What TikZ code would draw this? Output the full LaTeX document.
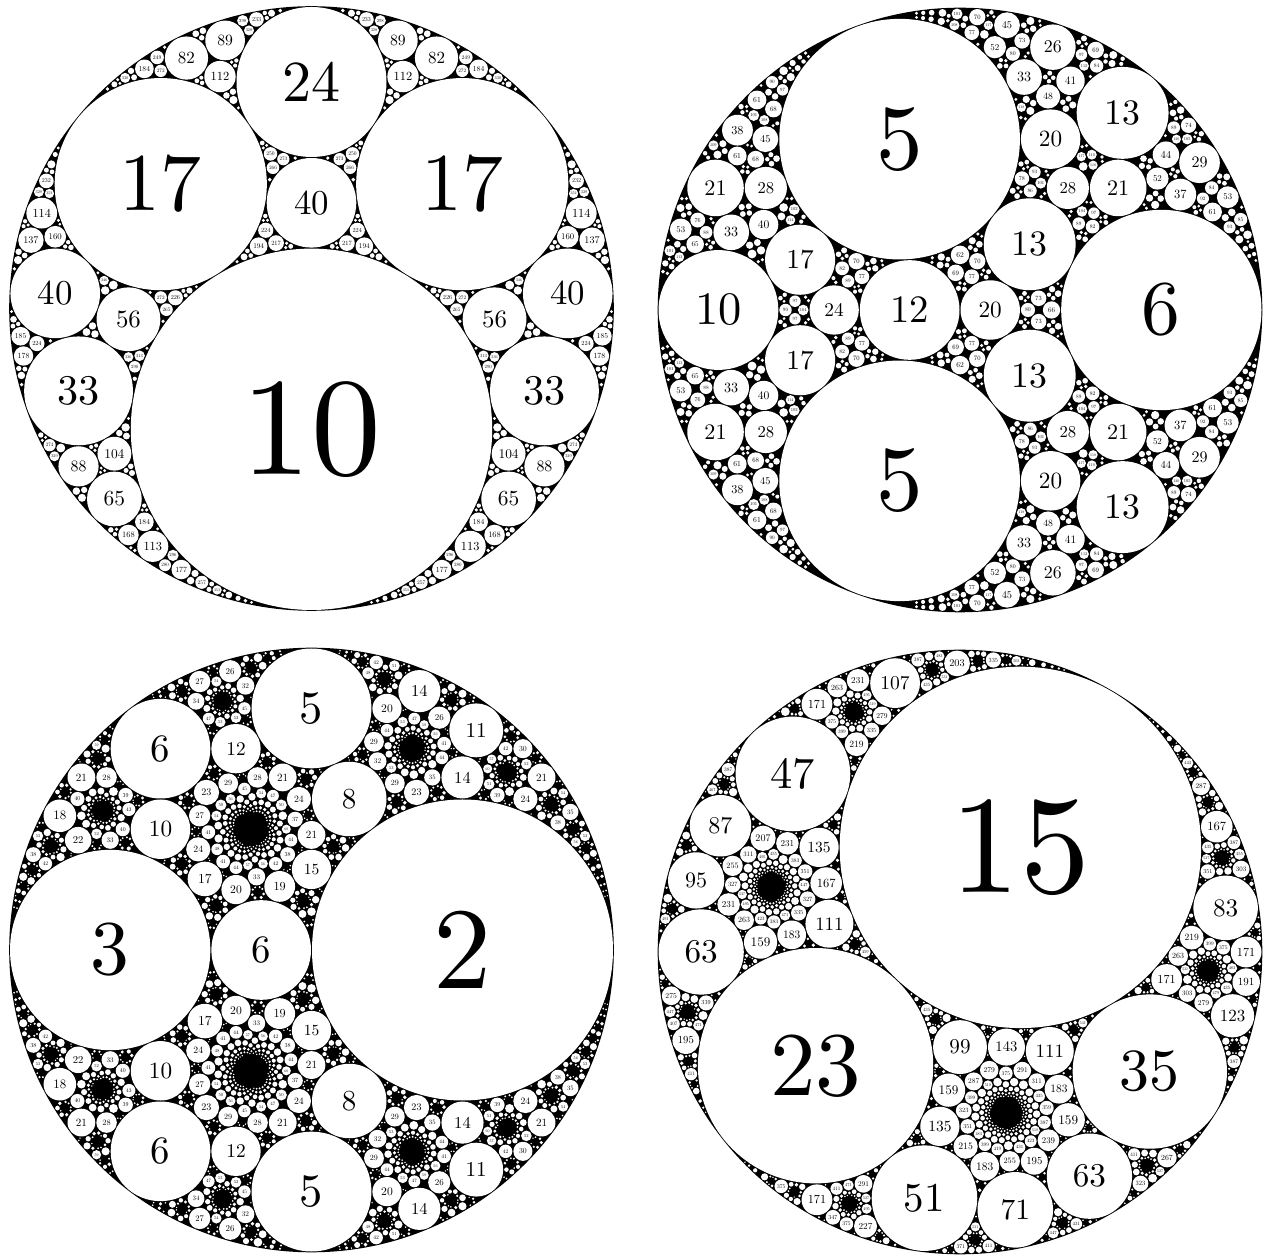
\documentclass[tikz,border=0pt]{standalone}
\makeatletter\let\stripdim\strip@pt\makeatother
\newcount\Ia \newcount\Ib \newcount\Is \newcount\Nc
\def\Rsp{19791872}
\def\Ncap{30000}
\def\SetPanel#1#2#3#4#5#6#7#8{%
  \edef\PCx{\number\dimexpr #1pt\relax}%
  \edef\PCy{\number\dimexpr 1256pt-#2pt\relax}%
  \edef\PRx{\the\numexpr\Rsp*#3/100000000\relax}%
  \edef\PRy{\the\numexpr\Rsp*#4/100000000\relax}%
  \edef\PRr{\the\numexpr\Rsp*#5\relax}%
  \def\Sc{#6}\def\Kmax{#7}\def\Klab{#8}\global\Nc=0 }
\def\SetVec#1#2#3#4{\def\Ak{#1}\def\Au{#2}\def\Aw{#3}\def\Bk{#4}\SetVecB}
\def\SetVecB#1#2#3#4#5#6#7#8{\def\Bu{#1}\def\Bw{#2}\def\Ck{#3}\def\Cu{#4}\def\Cw{#5}\def\Dk{#6}\def\Du{#7}\def\Dw{#8}}
% ---- one white disc (a round dot of its diameter), with its curvature as label
\makeatletter
\def\PutCircB#1#2{\ifnum\Nc<\Ncap\begingroup
  \global\advance\Nc 1
  \dimen0=\numexpr\PCx+(#1)*\PRx/\tk\relax sp
  \dimen2=\numexpr\PCy+(#2)*\PRy/\tk\relax sp
  \dimen4=\numexpr\PRr/\tk\relax sp
  \dimen8=\dimexpr2\dimen4-1pt\relax
  \pgfsys@setlinewidth{\dimen8}\pgfsys@moveto{\dimen0}{\dimen2}\pgfsys@lineto{\dimen0}{\dimen2}\pgfsys@stroke
  \ifnum\tk>\Klab\else
    \dimen6=0.077\dimen4
    \edef\ts{\stripdim\dimen6}%
    \pgftext[at=\pgfqpoint{\dimen0}{\dimen2}]{\scalebox{\ts}{\the\numexpr\tk/\Sc\relax}}%
  \fi
  \endgroup\fi}
\makeatother
\def\PutCirc#1#2#3{%
  \edef\tk{\the\numexpr#1\relax}%
  \ifnum\tk>0 \ifnum\tk>\Kmax\else\PutCircB{#2}{#3}\fi\fi}
% ---- scanning a window of lattice cells
\def\scanB{\ifnum\Ib>\bhi\else\Ia=\alo\relax\scanA\advance\Ib 1 \expandafter\scanB\fi}
\def\scanA{\ifnum\Ia>\ahi\else\cellaction\advance\Ia 1 \expandafter\scanA\fi}
\def\findRS{\ifnum\numexpr\al*\Is*\Is\relax<\T\relax\advance\Is 1 \expandafter\findRS\fi}
\def\findRH{\ifnum\numexpr3*\al*\Is*\Is\relax<\numexpr4*\T\relax\relax\advance\Is 1 \expandafter\findRH\fi}
\def\SetWindow{%
  \edef\alo{\the\numexpr\az-\Is-1\relax}\edef\ahi{\the\numexpr\az+\Is+1\relax}%
  \edef\blo{\the\numexpr\bz-\Is-1\relax}\edef\bhi{\the\numexpr\bz+\Is+1\relax}}
% ---- square lattice of circles, mirrors in the square gaps
\def\SqNode{%
  \edef\al{\Dk}%
  \edef\az{\the\numexpr(-\Bk)/(2*\al)\relax}%
  \edef\bz{\the\numexpr(-\Ck)/(2*\al)\relax}%
  \edef\T{\the\numexpr\Kmax-\Ak+\Bk*\Bk/(4*\al)+\Ck*\Ck/(4*\al)\relax}%
  \Is=1 \findRS \SetWindow
  \let\cellaction\SqDraw \Ib=\blo\relax\scanB
  \let\cellaction\SqMirror \Ib=\blo\relax\scanB}
\def\SqDraw{%
  \edef\tq{\the\numexpr\Ia*\Ia+\Ib*\Ib\relax}%
  \edef\tk{\the\numexpr\Ak+\Ia*\Bk+\Ib*\Ck+\tq*\Dk\relax}%
  \ifnum\tk>0 \ifnum\tk>\Kmax\else
    \ifnum\skipS=0 \SqPut\else
      \ifnum\numexpr\Ia*(\Ia-1)+\Ib*(\Ib-1)\relax=0 \else\SqPut\fi
    \fi
  \fi\fi}
\def\SqPut{\PutCircB{\Au+\Ia*\Bu+\Ib*\Cu+\tq*\Du}{\Aw+\Ia*\Bw+\Ib*\Cw+\tq*\Dw}}
\def\SqMirror{%
  \ifnum\numexpr\skipS*(1-\Ia*\Ia-\Ib*\Ib)\relax=1 \else
    \edef\tq{\the\numexpr\Ia*\Ia+\Ib*\Ib\relax}%
    \edef\gk{\the\numexpr(2*(\Ak+\Ia*\Bk+\Ib*\Ck+\tq*\Dk)+\Bk+2*\Ia*\Dk+\Ck+2*\Ib*\Dk+\Dk)/2\relax}%
    \ifnum\gk>\Kprune\else\ifnum\Nc<\Ncap
      \begingroup
      \SqUpd{k}\SqUpd{u}\SqUpd{w}\def\skipS{1}\SqNode
      \endgroup
    \fi\fi
  \fi}
\def\SqUpd#1{%
  \edef\tz{\the\numexpr\csname A#1\endcsname+\Ia*\csname B#1\endcsname+\Ib*\csname C#1\endcsname+\tq*\csname D#1\endcsname\relax}%
  \edef\tb{\the\numexpr\csname B#1\endcsname+2*\Ia*\csname D#1\endcsname\relax}%
  \edef\tc{\the\numexpr\csname C#1\endcsname+2*\Ib*\csname D#1\endcsname\relax}%
  \edef\tg{\the\numexpr(2*\tz+\tb+\tc+\csname D#1\endcsname)/2\relax}%
  \expandafter\edef\csname A#1\endcsname{\tz}%
  \expandafter\edef\csname B#1\endcsname{\the\numexpr\tb-4*\tg\relax}%
  \expandafter\edef\csname C#1\endcsname{\the\numexpr\tc-4*\tg\relax}%
  \expandafter\edef\csname D#1\endcsname{\the\numexpr\csname D#1\endcsname+4*\tg\relax}}
% ---- hexagonal lattice of circles, mirrors in the triangular gaps
\def\HexNode{%
  \edef\al{\Dk}%
  \edef\az{\the\numexpr(\Ck-2*\Bk)/(3*\al)\relax}%
  \edef\bz{\the\numexpr(\Bk-2*\Ck)/(3*\al)\relax}%
  \edef\T{\the\numexpr\Kmax-\Ak-\Bk*\Ck/(3*\al)+\Bk*\Bk/(3*\al)+\Ck*\Ck/(3*\al)\relax}%
  \Is=1 \findRH \SetWindow
  \let\cellaction\HexDraw \Ib=\blo\relax\scanB
  \let\cellaction\HexMirrors \Ib=\blo\relax\scanB}
\def\HexDraw{%
  \edef\tq{\the\numexpr\Ia*\Ia+\Ia*\Ib+\Ib*\Ib\relax}%
  \edef\tk{\the\numexpr\Ak+\Ia*\Bk+\Ib*\Ck+\tq*\Dk\relax}%
  \ifnum\tk>0 \ifnum\tk>\Kmax\else
    \ifnum\skipS=0 \HexPut\else
      \ifnum\numexpr\Ia*\Ia+\Ib*\Ib\relax<2
        \ifnum\numexpr\skipS*(\Ia+\Ib)\relax<0 \HexPut\fi
      \else\HexPut\fi
    \fi
  \fi\fi}
\def\HexPut{\PutCircB{\Au+\Ia*\Bu+\Ib*\Cu+\tq*\Du}{\Aw+\Ia*\Bw+\Ib*\Cw+\tq*\Dw}}
\def\HexMirrors{\HexMirror{1}\HexMirror{-1}}
\def\HexMirror#1{%
  \ifnum\numexpr\Ia*\Ia+\Ib*\Ib+((#1)-\skipS)*((#1)-\skipS)\relax=0 \else
    \edef\tq{\the\numexpr\Ia*\Ia+\Ia*\Ib+\Ib*\Ib\relax}%
    \edef\gk{\the\numexpr(6*(\Ak+\Ia*\Bk+\Ib*\Ck+\tq*\Dk)+2*(#1)*(\Bk+(2*\Ia+\Ib)*\Dk+\Ck+(\Ia+2*\Ib)*\Dk)+3*\Dk)/6\relax}%
    \ifnum\gk>\Kprune\else\ifnum\Nc<\Ncap
      \begingroup
      \HexUpd{k}{#1}\HexUpd{u}{#1}\HexUpd{w}{#1}\def\skipS{#1}\HexNode
      \endgroup
    \fi\fi
  \fi}
\def\HexUpd#1#2{%
  \edef\tz{\the\numexpr\csname A#1\endcsname+\Ia*\csname B#1\endcsname+\Ib*\csname C#1\endcsname+\tq*\csname D#1\endcsname\relax}%
  \edef\tb{\the\numexpr\csname B#1\endcsname+(2*\Ia+\Ib)*\csname D#1\endcsname\relax}%
  \edef\tc{\the\numexpr\csname C#1\endcsname+(\Ia+2*\Ib)*\csname D#1\endcsname\relax}%
  \edef\tg{\the\numexpr(6*\tz+2*(#2)*(\tb+\tc)+3*\csname D#1\endcsname)/6\relax}%
  \expandafter\edef\csname A#1\endcsname{\tz}%
  \expandafter\edef\csname B#1\endcsname{\the\numexpr\tb-12*(#2)*\tg\relax}%
  \expandafter\edef\csname C#1\endcsname{\the\numexpr\tc-12*(#2)*\tg\relax}%
  \expandafter\edef\csname D#1\endcsname{\the\numexpr\csname D#1\endcsname+12*\tg\relax}}
% ---- octahedral packing
\def\OctaNode{\OctaChild{1}{1}{1}\OctaChild{1}{1}{-1}\OctaChild{1}{-1}{1}\OctaChild{1}{-1}{-1}%
  \OctaChild{-1}{1}{1}\OctaChild{-1}{1}{-1}\OctaChild{-1}{-1}{1}\OctaChild{-1}{-1}{-1}}
\def\OctaChild#1#2#3{%
  \ifnum\numexpr((#1)-\lastA)*((#1)-\lastA)+((#2)-\lastB)*((#2)-\lastB)+((#3)-\lastC)*((#3)-\lastC)\relax=0 \else
    \edef\gk{\the\numexpr2*\Ak+(#1)*\Bk+(#2)*\Ck+(#3)*\Dk\relax}%
    \ifnum\gk>\Kprune\else\ifnum\Nc<\Ncap
      \begingroup
      \OctaUpd{k}{#1}{#2}{#3}\OctaUpd{u}{#1}{#2}{#3}\OctaUpd{w}{#1}{#2}{#3}%
      \def\lastA{#1}\def\lastB{#2}\def\lastC{#3}%
      \PutCirc{\Ak-(#1)*\Bk}{\Au-(#1)*\Bu}{\Aw-(#1)*\Bw}%
      \PutCirc{\Ak-(#2)*\Ck}{\Au-(#2)*\Cu}{\Aw-(#2)*\Cw}%
      \PutCirc{\Ak-(#3)*\Dk}{\Au-(#3)*\Du}{\Aw-(#3)*\Dw}%
      \OctaNode
      \endgroup
    \fi\fi
  \fi}
\def\OctaUpd#1#2#3#4{%
  \edef\tg{\the\numexpr2*\csname A#1\endcsname+(#2)*\csname B#1\endcsname+(#3)*\csname C#1\endcsname+(#4)*\csname D#1\endcsname\relax}%
  \expandafter\edef\csname A#1\endcsname{\the\numexpr\csname A#1\endcsname+2*\tg\relax}%
  \expandafter\edef\csname B#1\endcsname{\the\numexpr\csname B#1\endcsname-2*(#2)*\tg\relax}%
  \expandafter\edef\csname C#1\endcsname{\the\numexpr\csname C#1\endcsname-2*(#3)*\tg\relax}%
  \expandafter\edef\csname D#1\endcsname{\the\numexpr\csname D#1\endcsname-2*(#4)*\tg\relax}}
% ---- cubic packing
\def\CubeV#1#2#3{\PutCirc{\Ak+(#1)*\Bk+(#2)*\Ck+(#3)*\Dk}{\Au+(#1)*\Bu+(#2)*\Cu+(#3)*\Du}{\Aw+(#1)*\Bw+(#2)*\Cw+(#3)*\Dw}}
\def\CubeNode{\CubeChild{B}{1}\CubeChild{B}{-1}\CubeChild{C}{1}\CubeChild{C}{-1}\CubeChild{D}{1}\CubeChild{D}{-1}}
\def\CubeChild#1#2{%
  \edef\tskip{\if#1\lastJ\ifnum\numexpr(#2)-(\lastS)\relax=0 1\else 0\fi\else 0\fi}%
  \ifnum\tskip=1 \else
    \edef\gk{\the\numexpr\Ak+2*(#2)*\csname#1k\endcsname\relax}%
    \ifnum\gk>\Kprune\else\ifnum\Nc<\Ncap
      \begingroup
      \CubeUpd{k}{#1}{#2}\CubeUpd{u}{#1}{#2}\CubeUpd{w}{#1}{#2}%
      \def\lastJ{#1}\def\lastS{#2}%
      \CubeFace{#1}{#2}%
      \CubeNode
      \endgroup
    \fi\fi
  \fi}
\def\CubeUpd#1#2#3{%
  \edef\tg{\the\numexpr\csname A#1\endcsname+2*(#3)*\csname#2#1\endcsname\relax}%
  \expandafter\edef\csname A#1\endcsname{\the\numexpr\csname A#1\endcsname+2*\tg\relax}%
  \expandafter\edef\csname#2#1\endcsname{\the\numexpr\csname#2#1\endcsname-2*(#3)*\tg\relax}}
\def\CubeFace#1#2{%
  \if#1B\CubeV{0-(#2)}{1}{1}\CubeV{0-(#2)}{1}{-1}\CubeV{0-(#2)}{-1}{1}\CubeV{0-(#2)}{-1}{-1}\fi
  \if#1C\CubeV{1}{0-(#2)}{1}\CubeV{1}{0-(#2)}{-1}\CubeV{-1}{0-(#2)}{1}\CubeV{-1}{0-(#2)}{-1}\fi
  \if#1D\CubeV{1}{1}{0-(#2)}\CubeV{1}{-1}{0-(#2)}\CubeV{-1}{1}{0-(#2)}\CubeV{-1}{-1}{0-(#2)}\fi}
\begin{document}
\begin{tikzpicture}[x=1pt,y=1pt]
\useasboundingbox (0,0) rectangle (1266,1256);
\fill[white] (0,0) rectangle (1266,1256);
% black discs
\fill[black] (311.5,947.5) circle (302.3);
\fill[black] (960,946)   circle (302.3);
\fill[black] (311.5,306) circle (302.3);
\fill[black] (960,304)   circle (302.3);
\begin{scope}
\pgfsetstrokecolor{white}\pgfsetroundcap
% top left: octahedral
\SetPanel{311.5}{308.5}{141421356}{100000000}{6}{1}{900}{360}
\SetVec{17}{0}{7}{-7}{0}{-11}{0}{6}{0}{23}{0}{7}
\def\Kprune{450}\def\lastA{0}\def\lastB{0}\def\lastC{0}
\PutCirc{\Ak+\Bk}{\Au+\Bu}{\Aw+\Bw}\PutCirc{\Ak-\Bk}{\Au-\Bu}{\Aw-\Bw}
\PutCirc{\Ak+\Ck}{\Au+\Cu}{\Aw+\Cw}\PutCirc{\Ak-\Ck}{\Au-\Cu}{\Aw-\Cw}
\PutCirc{\Ak+\Dk}{\Au+\Du}{\Aw+\Dw}\PutCirc{\Ak-\Dk}{\Au-\Du}{\Aw-\Dw}
\OctaNode
% top right: cubic
\SetPanel{960}{310}{100000000}{141421356}{4}{2}{600}{240}
\SetVec{18}{2}{0}{7}{-1}{2}{7}{-1}{-2}{8}{4}{0}
\def\Kprune{300}\def\lastJ{X}\def\lastS{0}
\CubeV{1}{1}{1}\CubeV{1}{1}{-1}\CubeV{1}{-1}{1}\CubeV{1}{-1}{-1}
\CubeV{-1}{1}{1}\CubeV{-1}{1}{-1}\CubeV{-1}{-1}{1}\CubeV{-1}{-1}{-1}
\CubeNode
% bottom left: square lattice seen from a cusp
\SetPanel{311.5}{950}{100000000}{100000000}{1}{1}{250}{60}
\SetVec{-1}{0}{0}{-2}{2}{-2}{1}{1}{2}{5}{-1}{2}
\def\Kprune{125}\def\skipS{0}
\SqNode
% bottom right: hexagonal lattice seen from a cusp
\SetPanel{960}{952}{100000000}{173205081}{9}{1}{2250}{540}
\SetVec{-9}{0}{0}{-28}{-5}{19}{-8}{14}{8}{52}{8}{-16}
\def\Kprune{640}\def\skipS{0}
\HexNode
\end{scope}
\end{tikzpicture}
\end{document}
